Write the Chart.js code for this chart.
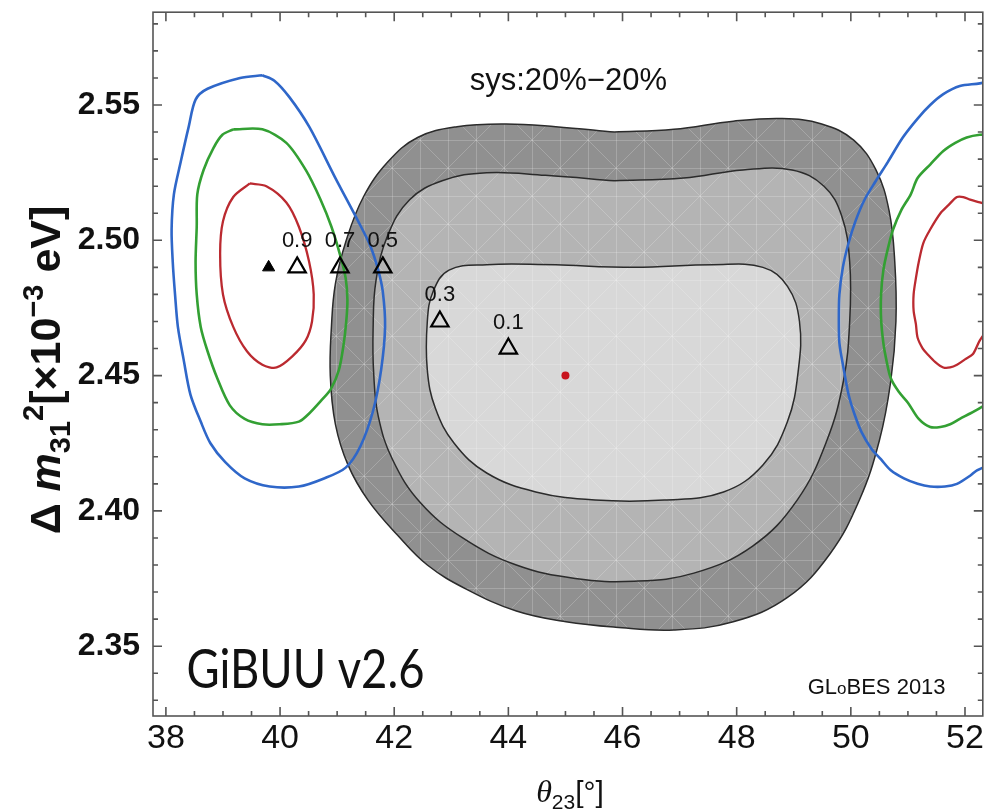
<!DOCTYPE html>
<html>
<head>
<meta charset="utf-8">
<script src="https://cdn.jsdelivr.net/npm/chart.js@4.4.1/dist/chart.umd.min.js"></script>
<style>
  html, body { margin: 0; padding: 0; background: #ffffff; }
  #c { display: block; }
</style>
</head>
<body>
<canvas id="c" width="995" height="812"></canvas>
<script>
// Axis ticks that carry labels
const xTickLabels = [38, 40, 42, 44, 46, 48, 50, 52];
const yTickLabels = [2.35, 2.40, 2.45, 2.50, 2.55];

// Allowed regions (theta23 [deg], dm31^2 [1e-3 eV^2]), outermost to innermost
const regionOuter = [[45.86,2.540],[46.90,2.541],[47.94,2.544],[48.80,2.545],[49.49,2.543],[50.05,2.537],[50.44,2.526],[50.67,2.511],[50.77,2.492],[50.79,2.470],[50.70,2.448],[50.50,2.426],[50.15,2.404],[49.63,2.384],[48.89,2.368],[47.94,2.359],[46.90,2.356],[45.88,2.357],[45.01,2.359],[44.14,2.363],[43.27,2.371],[42.58,2.380],[42.06,2.391],[41.54,2.404],[41.19,2.417],[40.97,2.432],[40.88,2.450],[40.90,2.468],[40.97,2.484],[41.16,2.500],[41.46,2.516],[41.89,2.529],[42.41,2.538],[43.10,2.542],[43.96,2.543],[44.83,2.542]];
const regionMiddle = [[45.86,2.522],[47.07,2.523],[48.11,2.526],[48.97,2.526],[49.53,2.520],[49.84,2.509],[49.98,2.492],[49.98,2.470],[49.87,2.448],[49.58,2.426],[49.06,2.404],[48.28,2.387],[47.25,2.377],[46.21,2.374],[45.17,2.375],[44.14,2.380],[43.20,2.390],[42.46,2.403],[41.97,2.419],[41.72,2.435],[41.64,2.451],[41.63,2.467],[41.68,2.485],[41.89,2.502],[42.27,2.515],[42.84,2.522],[43.62,2.525],[44.65,2.524]];
const regionInner = [[44.83,2.491],[46.21,2.490],[47.59,2.491],[48.46,2.490],[48.89,2.483],[49.10,2.470],[49.08,2.452],[48.89,2.433],[48.46,2.417],[47.77,2.407],[46.73,2.404],[45.52,2.404],[44.48,2.407],[43.62,2.414],[43.05,2.425],[42.72,2.438],[42.58,2.452],[42.58,2.470],[42.68,2.481],[42.96,2.489],[43.62,2.491]];

// Contours around the lower octant fit
const blueLeft = [[39.69,2.561],[39.30,2.560],[38.73,2.556],[38.52,2.552],[38.40,2.542],[38.26,2.529],[38.14,2.517],[38.10,2.504],[38.12,2.492],[38.16,2.480],[38.21,2.468],[38.31,2.456],[38.43,2.443],[38.61,2.433],[38.78,2.425],[39.04,2.418],[39.38,2.412],[39.82,2.409],[40.33,2.409],[40.77,2.412],[41.15,2.416],[41.41,2.424],[41.63,2.437],[41.77,2.452],[41.84,2.468],[41.80,2.481],[41.72,2.489],[41.58,2.498],[41.37,2.507],[40.97,2.523],[40.51,2.542],[40.16,2.553],[39.90,2.559]];
const greenLeft = [[39.18,2.541],[39.69,2.541],[40.11,2.536],[40.45,2.526],[40.71,2.515],[40.90,2.505],[41.06,2.494],[41.15,2.486],[41.18,2.478],[41.16,2.470],[41.11,2.461],[41.03,2.452],[40.89,2.445],[40.73,2.441],[40.51,2.436],[40.33,2.433],[39.99,2.432],[39.69,2.432],[39.38,2.434],[39.12,2.439],[38.90,2.449],[38.73,2.459],[38.61,2.468],[38.54,2.480],[38.52,2.492],[38.54,2.505],[38.55,2.517],[38.66,2.526],[38.83,2.534],[38.99,2.539]];
const redLeft = [[39.47,2.521],[39.76,2.520],[40.11,2.514],[40.33,2.505],[40.51,2.492],[40.59,2.480],[40.56,2.470],[40.45,2.463],[40.21,2.457],[39.94,2.453],[39.69,2.454],[39.42,2.459],[39.18,2.468],[39.00,2.480],[38.95,2.495],[39.00,2.507],[39.18,2.516]];

// Contours around the upper octant fit (run past the right edge)
const blueRight = [[52.43,2.559],[52.26,2.558],[51.91,2.557],[51.62,2.554],[51.39,2.550],[51.17,2.545],[50.91,2.538],[50.65,2.529],[50.44,2.522],[50.24,2.515],[50.08,2.507],[49.96,2.499],[49.86,2.490],[49.80,2.480],[49.79,2.471],[49.80,2.462],[49.87,2.453],[49.96,2.443],[50.06,2.436],[50.19,2.429],[50.36,2.423],[50.53,2.419],[50.70,2.415],[50.93,2.412],[51.17,2.410],[51.39,2.409],[51.65,2.409],[51.86,2.410],[52.09,2.413],[52.21,2.415],[52.43,2.417]];
const greenRight = [[52.43,2.539],[52.26,2.539],[52.03,2.538],[51.83,2.536],[51.62,2.533],[51.39,2.528],[51.17,2.523],[51.05,2.517],[50.88,2.511],[50.74,2.504],[50.65,2.497],[50.57,2.489],[50.53,2.480],[50.53,2.471],[50.57,2.462],[50.62,2.456],[50.70,2.449],[50.84,2.444],[51.00,2.440],[51.19,2.434],[51.39,2.431],[51.57,2.431],[51.74,2.432],[51.91,2.434],[52.09,2.436],[52.26,2.438],[52.43,2.440]];
const redRight = [[52.43,2.513],[52.26,2.514],[52.09,2.515],[51.97,2.516],[51.86,2.516],[51.71,2.513],[51.57,2.510],[51.39,2.504],[51.27,2.499],[51.19,2.492],[51.14,2.486],[51.10,2.480],[51.10,2.474],[51.14,2.469],[51.17,2.464],[51.26,2.460],[51.34,2.458],[51.48,2.455],[51.62,2.453],[51.74,2.453],[51.86,2.454],[52.00,2.456],[52.14,2.458],[52.26,2.463],[52.43,2.468]];

// Best-fit points for different values, plus the input point
const triTheta = [40.3, 41.05, 41.8, 42.8, 44.0];
const triDm = [2.49, 2.49, 2.49, 2.47, 2.46];
const triLabels = ['0.9', '0.7', '0.5', '0.3', '0.1'];
const filledTri = [39.8, 2.49];
const truePoint = [45.0, 2.45];

const toPts = arr => arr.map(([x, y]) => ({ x, y }));
const closed = arr => toPts(arr.concat([arr[0]]));

// Light meshed texture for the shaded regions
function lattice(shade) {
  const c = document.createElement('canvas');
  c.width = 56; c.height = 56;
  const g = c.getContext('2d');
  g.fillStyle = shade; g.fillRect(0, 0, 56, 56);
  g.strokeStyle = 'rgba(255,255,255,0.2)';
  g.lineWidth = 1;
  g.beginPath();
  g.moveTo(0.5, 0); g.lineTo(0.5, 56); g.moveTo(28.5, 0); g.lineTo(28.5, 56);
  g.moveTo(0, 0.5); g.lineTo(56, 0.5); g.moveTo(0, 28.5); g.lineTo(56, 28.5);
  g.moveTo(0, 0); g.lineTo(56, 56); g.moveTo(56, 0); g.lineTo(0, 56);
  g.stroke();
  return g.createPattern(c, 'repeat');
}

const isMajorY = v => yTickLabels.some(t => Math.abs(t - v) < 1e-6);
const isMajorX = v => xTickLabels.some(t => Math.abs(t - v) < 1e-6);

// Frame with inward ticks on all four sides
const framePlugin = {
  id: 'frameTicks',
  afterDraw(chart) {
    const { ctx, chartArea: a, scales: { x, y } } = chart;
    ctx.save();
    ctx.strokeStyle = '#555555';
    ctx.lineWidth = 1.6;
    ctx.beginPath();
    x.ticks.forEach(t => {
      const p = x.getPixelForValue(t.value);
      const L = isMajorX(t.value) ? 9 : 5;
      ctx.moveTo(p, a.bottom); ctx.lineTo(p, a.bottom - L);
      ctx.moveTo(p, a.top); ctx.lineTo(p, a.top + L);
    });
    y.ticks.forEach(t => {
      const p = y.getPixelForValue(t.value);
      const L = isMajorY(t.value) ? 9 : 5;
      ctx.moveTo(a.left, p); ctx.lineTo(a.left + L, p);
      ctx.moveTo(a.right, p); ctx.lineTo(a.right - L, p);
    });
    ctx.stroke();
    ctx.strokeRect(a.left, a.top, a.right - a.left, a.bottom - a.top);
    ctx.restore();
  }
};

function drawRuns(ctx, runs, x, y, align) {
  let w = 0;
  runs.forEach(r => { ctx.font = r[1]; w += ctx.measureText(r[0]).width; });
  let cx = align === 'center' ? x - w / 2 : align === 'right' ? x - w : x;
  runs.forEach(r => {
    ctx.font = r[1];
    ctx.fillText(r[0], cx, y + (r[2] || 0));
    cx += ctx.measureText(r[0]).width;
  });
}

// Annotations, marker labels and axis titles
const textPlugin = {
  id: 'texts',
  afterDraw(chart) {
    const { ctx, scales: { x, y } } = chart;
    ctx.save();
    ctx.fillStyle = '#111';
    ctx.textAlign = 'left';
    ctx.textBaseline = 'alphabetic';

    // labels over the open triangles
    const meta = chart.getDatasetMeta(chart.data.datasets.findIndex(d => d.id === 'tri'));
    ctx.font = '22px "Liberation Sans"';
    ctx.textAlign = 'center';
    meta.data.forEach((pt, i) => ctx.fillText(triLabels[i], pt.x, pt.y - 20));
    ctx.textAlign = 'left';

    drawRuns(ctx, [['sys:20%\u221220%', '31px "Liberation Sans"']], x.getPixelForValue(45.05), y.getPixelForValue(2.5555), 'center');

    // program tag, condensed lettering
    ctx.save();
    const tag = 'GiBUU v2.6';
    ctx.font = '400 55px Lato, "DejaVu Sans"';
    const sx = 238 / ctx.measureText(tag).width;
    ctx.translate(x.getPixelForValue(38.36), y.getPixelForValue(2.3345));
    ctx.scale(sx, 1);
    ctx.fillText(tag, 0, 0);
    ctx.restore();

    drawRuns(ctx, [['GL', '22px "Liberation Sans"'], ['o', '17px "Liberation Sans"'], ['BES 2013', '22px "Liberation Sans"']],
      x.getPixelForValue(51.66), y.getPixelForValue(2.3323), 'right');

    // x-axis title
    drawRuns(ctx, [['\u03b8', 'italic 32px "Liberation Serif"'], ['23', '21px "Liberation Sans"', 7], ['[\u00b0]', '30px "Liberation Sans"']],
      570, 802, 'center');

    // y-axis title
    ctx.translate(60, 370);
    ctx.rotate(-Math.PI / 2);
    const B = 'bold 43px "Liberation Sans"';
    const Bi = 'italic bold 43px "Liberation Sans"';
    const S = 'bold 29px "Liberation Sans"';
    drawRuns(ctx, [['\u0394 ', B], ['m', Bi], ['31', S, 10], ['2', S, -17], ['[\u00d710', B], ['\u22123', S, -17], [' eV]', B]], 0, 0, 'center');
    ctx.restore();
  }
};

const grayBorder = '#2b2b2b';
new Chart(document.getElementById('c'), {
  type: 'scatter',
  data: {
    datasets: [
      { id: 'tri', data: triTheta.map((v, i) => ({ x: v, y: triDm[i] })), pointStyle: 'triangle', pointRadius: 10,
        backgroundColor: 'rgba(0,0,0,0)', borderColor: '#000', borderWidth: 2.2, pointBorderWidth: 2.2, order: 0 },
      { data: [{ x: filledTri[0], y: filledTri[1] }], pointStyle: 'triangle', pointRadius: 7,
        backgroundColor: '#000', borderColor: '#000', borderWidth: 1, order: 0 },
      { data: [{ x: truePoint[0], y: truePoint[1] }], pointStyle: 'circle', pointRadius: 4,
        backgroundColor: '#c8141e', borderColor: '#c8141e', borderWidth: 0, order: 0 },

      { data: toPts(blueRight), showLine: true, borderColor: '#2f67c9', borderWidth: 2.6, pointRadius: 0, tension: 0.3, order: 1 },
      { data: toPts(greenRight), showLine: true, borderColor: '#33a033', borderWidth: 2.6, pointRadius: 0, tension: 0.3, order: 1 },
      { data: toPts(redRight), showLine: true, borderColor: '#bb2a30', borderWidth: 2.3, pointRadius: 0, tension: 0.3, order: 1 },
      { data: closed(blueLeft), showLine: true, borderColor: '#2f67c9', borderWidth: 2.6, pointRadius: 0, tension: 0.3, order: 2 },
      { data: closed(greenLeft), showLine: true, borderColor: '#33a033', borderWidth: 2.6, pointRadius: 0, tension: 0.3, order: 2 },
      { data: closed(redLeft), showLine: true, borderColor: '#bb2a30', borderWidth: 2.3, pointRadius: 0, tension: 0.3, order: 2 },

      { data: closed(regionInner), showLine: true, fill: 'shape', backgroundColor: lattice('#d8d8d8'), borderColor: grayBorder, borderWidth: 1.5, pointRadius: 0, tension: 0.4, order: 8 },
      { data: closed(regionMiddle), showLine: true, fill: 'shape', backgroundColor: lattice('#b4b4b4'), borderColor: grayBorder, borderWidth: 1.5, pointRadius: 0, tension: 0.4, order: 9 },
      { data: closed(regionOuter), showLine: true, fill: 'shape', backgroundColor: lattice('#909090'), borderColor: grayBorder, borderWidth: 1.5, pointRadius: 0, tension: 0.4, order: 10 }
    ]
  },
  options: {
    responsive: false,
    animation: false,
    events: [],
    plugins: { legend: { display: false }, tooltip: { enabled: false } },
    layout: { padding: { top: 11, right: 4, left: 0, bottom: 0 } },
    scales: {
      x: {
        type: 'linear', min: 37.774, max: 52.312,
        grid: { display: false, drawTicks: false },
        border: { display: false },
        ticks: {
          stepSize: 0.5, includeBounds: false, autoSkip: false, maxRotation: 0, padding: 2,
          color: '#111', font: { family: 'Liberation Sans', size: 34 },
          callback: v => isMajorX(v) ? String(Math.round(v)) : ''
        },
        afterFit: s => { s.height = 96; s.paddingLeft = 0; s.paddingRight = 0; }
      },
      y: {
        type: 'linear', min: 2.3242, max: 2.5843,
        grid: { display: false, drawTicks: false },
        border: { display: false },
        ticks: {
          stepSize: 0.01, includeBounds: false, autoSkip: false, padding: 13,
          color: '#111', font: { family: 'Liberation Sans', size: 32, weight: 'bold' },
          callback: v => isMajorY(v) ? v.toFixed(2) : ''
        },
        afterFit: s => { s.width = 153; s.paddingTop = 0; s.paddingBottom = 0; }
      }
    }
  },
  plugins: [framePlugin, textPlugin]
});
</script>
</body>
</html>
